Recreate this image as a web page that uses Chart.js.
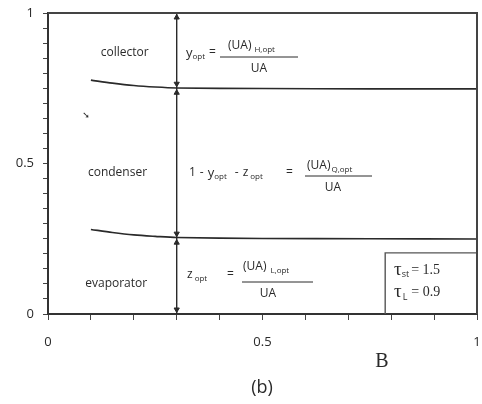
<!DOCTYPE html>
<html>
<head>
<meta charset="utf-8">
<script src="https://cdn.jsdelivr.net/npm/chart.js@4.4.1/dist/chart.umd.min.js"></script>
<style>
  html, body { margin: 0; padding: 0; background: #ffffff; }
  #wrap { width: 482px; height: 404px; }
</style>
</head>
<body>
<div id="wrap"><canvas id="c" width="482" height="404"></canvas></div>
<script>
// ---- data ----
const upperB = [0.1, 0.15, 0.2, 0.25, 0.3, 0.5, 0.75, 1.0];
const upperY = [0.777, 0.767, 0.759, 0.754, 0.751, 0.749, 0.748, 0.748];
const lowerB = [0.1, 0.15, 0.2, 0.25, 0.3, 0.5, 0.75, 1.0];
const lowerY = [0.281, 0.271, 0.263, 0.258, 0.254, 0.251, 0.250, 0.249];
const dividerB = [0.3, 0.3];
const dividerY = [0, 1];
const arrowB = [0.3, 0.3, 0.3, 0.3, 0.3, 0.3];
const arrowY = [0.985, 0.765, 0.735, 0.267, 0.237, 0.015];
const arrowDir = [0, 180, 0, 180, 0, 180];
const tauBoxB = [0.786, 0.786, 1.0];
const tauBoxY = [0, 0.203, 0.203];
const xTickLabels = ['0', '0.5', '1'];
const yTickLabels = ['0', '0.5', '1'];
const regionLabels = ['collector', 'condenser', 'evaporator'];
const tauValues = ['1.5', '0.9'];

const zip = (xs, ys) => xs.map((x, i) => ({ x: x, y: ys[i] }));
const INK = '#2a2a2a';
const SANS = '"Open Sans", "DejaVu Sans", sans-serif';
const SERIF = '"Liberation Serif", "DejaVu Serif", serif';

function labelFor(v, labels) {
  if (Math.abs(v - 0) < 1e-6) return labels[0];
  if (Math.abs(v - 0.5) < 1e-6) return labels[1];
  if (Math.abs(v - 1) < 1e-6) return labels[2];
  return '';
}

// helper: draw a run of text pieces left to right
function runs(ctx, x, y, pieces) {
  let cx = x;
  pieces.forEach(p => {
    ctx.font = (p.size || 12) + 'px ' + (p.family || SANS);
    ctx.textAlign = 'left';
    ctx.textBaseline = 'middle';
    ctx.fillText(p.t, cx, y + (p.dy || 0));
    cx += ctx.measureText(p.t).width + (p.gap || 0);
  });
  return cx;
}

const overlay = {
  id: 'overlay',
  afterDatasetsDraw(chart) {
    const ctx = chart.ctx;
    const a = chart.chartArea;
    const xs = chart.scales.x, ys = chart.scales.y;
    const px = v => xs.getPixelForValue(v);
    const py = v => ys.getPixelForValue(v);
    ctx.save();
    // frame: top and right
    ctx.strokeStyle = '#444';
    ctx.lineWidth = 2;
    ctx.beginPath();
    ctx.moveTo(a.left, a.top);
    ctx.lineTo(a.right, a.top);
    ctx.lineTo(a.right, a.bottom);
    ctx.stroke();

    ctx.fillStyle = INK;
    // region labels
    ctx.font = '12px ' + SANS;
    ctx.textAlign = 'center';
    ctx.textBaseline = 'middle';
    ctx.fillText(regionLabels[0], px(0.179), py(0.867));
    ctx.fillText(regionLabels[1], px(0.162), py(0.470));
    ctx.fillText(regionLabels[2], px(0.159), py(0.100));

    // equation 1: y_opt = (UA)_H,opt / UA
    runs(ctx, 186, 53, [{t: 'y', size: 13}, {t: 'opt', size: 8, dy: 4}]);
    runs(ctx, 209, 53, [{t: '=', size: 12}]);
    ctx.lineWidth = 1; ctx.strokeStyle = INK;
    ctx.beginPath(); ctx.moveTo(220, 57); ctx.lineTo(298, 57); ctx.stroke();
    runs(ctx, 228, 46, [{t: '(UA)', size: 12, gap: 3}, {t: 'H,opt', size: 8, dy: 4}]);
    ctx.textAlign = 'center'; ctx.font = '12px ' + SANS;
    ctx.fillText('UA', 259, 69);

    // equation 2: 1 - y_opt - z_opt = (UA)_Q,opt / UA
    runs(ctx, 189, 173, [{t: '1', size: 12, gap: 4}, {t: '-', size: 12, gap: 4},
      {t: 'y', size: 13}, {t: 'opt', size: 8, dy: 4, gap: 8},
      {t: '-', size: 12, gap: 4}, {t: 'z', size: 12, gap: 2}, {t: 'opt', size: 8, dy: 4}]);
    runs(ctx, 286, 173, [{t: '=', size: 12}]);
    ctx.beginPath(); ctx.moveTo(305, 176); ctx.lineTo(372, 176); ctx.stroke();
    runs(ctx, 307, 166, [{t: '(UA)', size: 12, gap: 1}, {t: 'Q,opt', size: 8, dy: 4}]);
    ctx.textAlign = 'center'; ctx.font = '12px ' + SANS;
    ctx.fillText('UA', 333, 188);

    // equation 3: z_opt = (UA)_L,opt / UA
    runs(ctx, 187, 275, [{t: 'z', size: 12, gap: 2}, {t: 'opt', size: 8, dy: 4}]);
    runs(ctx, 227, 275, [{t: '=', size: 12}]);
    ctx.beginPath(); ctx.moveTo(242, 282); ctx.lineTo(313, 282); ctx.stroke();
    runs(ctx, 243, 267, [{t: '(UA)', size: 12, gap: 4}, {t: 'L,opt', size: 8, dy: 4}]);
    ctx.textAlign = 'center'; ctx.font = '12px ' + SANS;
    ctx.fillText('UA', 268, 294);

    // tau box text
    runs(ctx, 394, 270, [{t: 'τ', size: 19, family: SERIF}, {t: 'st', size: 9, dy: 4, gap: 2},
      {t: '= ' + tauValues[0], size: 14, family: SERIF}]);
    runs(ctx, 394, 292, [{t: 'τ', size: 19, family: SERIF, gap: 1}, {t: 'L', size: 9, dy: 5, gap: 4},
      {t: '= ' + tauValues[1], size: 14, family: SERIF}]);

    // axis title and caption
    ctx.textAlign = 'center';
    ctx.font = '20px ' + SERIF;
    ctx.fillText('B', 382, 362);
    ctx.font = '18px ' + SANS;
    ctx.fillText('(b)', 262, 388);

    // small stray mark in the reference
    ctx.font = '9px ' + SANS;
    ctx.fillText('➘', 86, 115);
    ctx.restore();
  }
};

const lineDs = (data, w) => ({
  type: 'scatter', data: data, showLine: true, borderColor: INK, borderWidth: w,
  pointRadius: 0, fill: false, tension: 0.3, clip: false
});

new Chart(document.getElementById('c'), {
  type: 'scatter',
  data: {
    datasets: [
      lineDs(zip(upperB, upperY), 1.6),
      lineDs(zip(lowerB, lowerY), 1.6),
      Object.assign(lineDs(zip(dividerB, dividerY), 1.4), { tension: 0 }),
      Object.assign(lineDs(zip(tauBoxB, tauBoxY), 1.4), { tension: 0, borderColor: '#555' }),
      {
        type: 'scatter', data: zip(arrowB, arrowY), showLine: false,
        pointStyle: 'triangle', pointRadius: 3, rotation: arrowDir,
        backgroundColor: INK, borderColor: INK, borderWidth: 1, clip: false
      }
    ]
  },
  options: {
    responsive: false,
    devicePixelRatio: 1,
    animation: false,
    layout: { padding: { top: 13, right: 3, left: 0, bottom: 0 } },
    plugins: { legend: { display: false }, tooltip: { enabled: false }, title: { display: false } },
    scales: {
      x: {
        type: 'linear', min: 0, max: 1,
        afterFit: s => { s.height = 90; s.paddingLeft = 0; s.paddingRight = 0; },
        ticks: {
          stepSize: 0.1, autoSkip: false, maxRotation: 0, padding: 14,
          color: INK, font: { family: SANS, size: 13 },
          callback: v => labelFor(v, xTickLabels)
        },
        grid: { drawOnChartArea: false, drawTicks: true, tickLength: 6, color: '#444', lineWidth: 1 },
        border: { display: true, color: '#333', width: 2 }
      },
      y: {
        type: 'linear', min: 0, max: 1,
        afterFit: s => { s.width = 48; s.paddingTop = 0; s.paddingBottom = 0; },
        ticks: {
          stepSize: 0.05, autoSkip: false, padding: 9,
          color: INK, font: { family: SANS, size: 13 },
          callback: v => labelFor(v, yTickLabels)
        },
        grid: { drawOnChartArea: false, drawTicks: true, tickLength: 5, color: '#444', lineWidth: 1 },
        border: { display: true, color: '#333', width: 2 }
      }
    }
  },
  plugins: [overlay]
});
</script>
</body>
</html>
